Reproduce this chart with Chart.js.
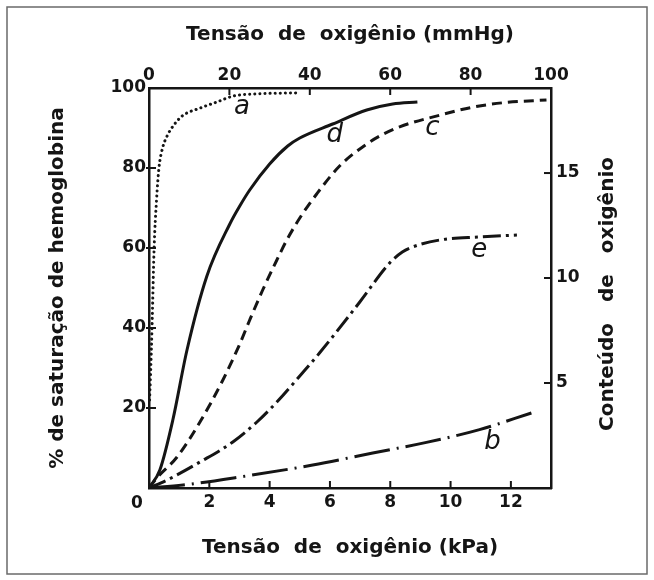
<!DOCTYPE html>
<html lang="pt">
<head>
<meta charset="utf-8">
<title>Curvas de dissociação</title>
<script src="https://cdn.jsdelivr.net/npm/chart.js@4.4.1/dist/chart.umd.min.js"></script>
<style>
  html, body { margin: 0; padding: 0; background: #fff; }
  #caixa { width: 654px; height: 580px; position: relative; }
</style>
</head>
<body>
<div id="caixa"><canvas id="grafico"></canvas></div>
<script>
// =========================
// DADOS (kPa x % saturação)
// =========================
const aKpa = [0.02, 0.05, 0.1, 0.17, 0.25, 0.33, 0.45, 0.6, 0.8, 1.1, 1.7, 2.25, 2.8, 3.5, 5.0];
const aSat = [22, 28, 40, 60, 72, 80, 85, 88, 90.5, 93, 95, 96.5, 98, 98.5, 98.8];

const dKpa = [0, 0.36, 0.79, 1.26, 1.92, 2.68, 3.01, 3.34, 4.0, 4.6, 5.0, 6.09, 7.22, 8.08, 8.9];
const dSat = [0, 4.5, 17, 34.5, 53, 66, 70.5, 74.5, 81, 85.5, 87.5, 91, 94.5, 96, 96.5];

const cKpa = [0, 0.26, 0.93, 1.69, 2.45, 3.01, 3.34, 3.77, 4.24, 4.57, 5.0, 5.56, 6.32, 7.22, 7.7, 8.31, 9.64, 10.73, 11.85, 13.18];
const cSat = [0, 2.5, 7.75, 16.5, 27, 36, 42, 49.5, 57, 62, 67.5, 73.5, 80.5, 86, 88.2, 90.3, 93.2, 95.2, 96.4, 97];

const eKpa = [0, 0.6, 1.69, 2.78, 3.58, 4.24, 5.0, 5.66, 6.99, 7.98, 8.4, 8.74, 9.64, 10.96, 12.2];
const eSat = [0, 2, 6.5, 11.5, 16.5, 21.5, 28, 33.8, 46.5, 56.25, 59, 60.25, 62, 62.75, 63.25];

const bKpa = [0, 1.13, 3.0, 5.43, 7.42, 9.2, 10.96, 12.68];
const bSat = [0, 0.75, 2.75, 5.75, 8.75, 11.4, 14.6, 18.75];

// rótulos das curvas (posição em kPa / %)
const rotulos    = ["a", "d", "c", "e", "b"];
const rotulosKpa = [3.08, 6.16, 9.4, 10.95, 11.39];
const rotulosSat = [95.25, 88.25, 90, 59.5, 11.5];

// eixos
const kpaMax      = 13.33;
const mmHgMax     = 100;
const satMax      = 100;
const conteudoMax = 19.05;

const tituloTopo     = "Tensão  de  oxigênio (mmHg)";
const tituloBase     = "Tensão  de  oxigênio (kPa)";
const tituloEsquerda = "% de saturação de hemoglobina";
const tituloDireita  = "Conteúdo   de   oxigênio";

const cor = "#151515";
const fonte = "'DejaVu Sans', sans-serif";

function pontos(xs, ys) {
  return xs.map((x, i) => ({ x, y: ys[i] }));
}

function serie(xs, ys, dash, cap) {
  return {
    data: pontos(xs, ys),
    borderColor: cor,
    borderWidth: 3,
    borderDash: dash,
    borderCapStyle: cap || "butt",
    pointRadius: 0,
    fill: false,
    cubicInterpolationMode: "monotone",
    xAxisID: "x",
    yAxisID: "y"
  };
}

// =========================
// PLUGIN: marcas internas, rótulos, moldura
// =========================
const extras = {
  id: "extras",
  afterDraw(chart) {
    const ctx = chart.ctx;
    const area = chart.chartArea;
    const s = chart.scales;
    const tam = 7;

    ctx.save();
    ctx.strokeStyle = cor;
    ctx.lineWidth = 2;

    // marcas para dentro
    s.x.ticks.forEach(t => {
      if (t.value <= 0) return;
      const px = s.x.getPixelForValue(t.value);
      ctx.beginPath(); ctx.moveTo(px, area.bottom); ctx.lineTo(px, area.bottom - tam); ctx.stroke();
    });
    s.x2.ticks.forEach(t => {
      if (t.value <= 0 || t.value >= mmHgMax) return;
      const px = s.x2.getPixelForValue(t.value);
      ctx.beginPath(); ctx.moveTo(px, area.top); ctx.lineTo(px, area.top + tam); ctx.stroke();
    });
    s.y.ticks.forEach(t => {
      if (t.value <= 0 || t.value >= satMax) return;
      const py = s.y.getPixelForValue(t.value);
      ctx.beginPath(); ctx.moveTo(area.left - 3, py); ctx.lineTo(area.left + tam, py); ctx.stroke();
    });
    s.y2.ticks.forEach(t => {
      if (t.value <= 0) return;
      const py = s.y2.getPixelForValue(t.value);
      ctx.beginPath(); ctx.moveTo(area.right, py); ctx.lineTo(area.right - tam, py); ctx.stroke();
    });

    ctx.fillStyle = cor;

    // zero do canto
    ctx.font = `bold 17px ${fonte}`;
    ctx.textAlign = "center";
    ctx.textBaseline = "middle";
    ctx.fillText("0", area.left - 12, area.bottom + 16);

    // rótulos das curvas
    ctx.font = `italic 26px ${fonte}`;
    rotulos.forEach((r, i) => {
      ctx.fillText(r, s.x.getPixelForValue(rotulosKpa[i]), s.y.getPixelForValue(rotulosSat[i]));
    });

    // título da direita (lido de baixo para cima)
    ctx.font = `bold 20px ${fonte}`;
    ctx.translate(area.right + 57, (area.top + area.bottom) / 2 + 6);
    ctx.rotate(-Math.PI / 2);
    ctx.fillText(tituloDireita, 0, 0);
    ctx.restore();

    // moldura
    ctx.save();
    ctx.strokeStyle = "#6a6a6a";
    ctx.lineWidth = 1.5;
    ctx.strokeRect(7, 7, chart.width - 14, chart.height - 13);
    ctx.restore();
  }
};

// =========================
// GRÁFICO
// =========================
const borda = { display: true, color: cor, width: 2.5 };
const semGrade = { display: false, drawTicks: false };
const fonteTick = { family: fonte, size: 17, weight: "bold" };
const fonteTitulo = { family: fonte, size: 20, weight: "bold" };

new Chart(document.getElementById("grafico"), {
  type: "line",
  data: {
    datasets: [
      serie(aKpa, aSat, [0.1, 5], "round"),
      serie(dKpa, dSat, []),
      serie(cKpa, cSat, [10, 6]),
      serie(eKpa, eSat, [18, 5, 3, 5]),
      serie(bKpa, bSat, [36, 7, 2, 7])
    ]
  },
  options: {
    responsive: true,
    maintainAspectRatio: false,
    animation: false,
    layout: { padding: 0 },
    plugins: {
      legend: { display: false },
      tooltip: { enabled: false }
    },
    scales: {
      x: {
        type: "linear", position: "bottom", min: 0, max: kpaMax,
        grid: semGrade, border: borda,
        ticks: {
          stepSize: 2, includeBounds: false, padding: 4, color: cor, font: fonteTick,
          callback: v => (v === 0 ? "" : v)
        },
        title: {
          display: true, text: tituloBase, color: cor,
          font: fonteTitulo, padding: { top: 0, bottom: 20 }
        },
        afterFit: sc => { sc.height = 92; }
      },
      x2: {
        type: "linear", position: "top", min: 0, max: mmHgMax,
        grid: semGrade, border: borda,
        ticks: { stepSize: 20, padding: 2, color: cor, font: fonteTick },
        title: {
          display: true, text: tituloTopo, color: cor,
          font: fonteTitulo, padding: { top: 23, bottom: 0 }
        },
        afterFit: sc => { sc.height = 88; }
      },
      y: {
        type: "linear", position: "left", min: 0, max: satMax,
        grid: semGrade, border: borda,
        ticks: {
          stepSize: 20, padding: 3, color: cor, font: fonteTick,
          callback: v => (v === 0 ? "" : v)
        },
        title: {
          display: true, text: tituloEsquerda, color: cor,
          font: fonteTitulo, padding: { top: 46, bottom: 0 }
        },
        afterFit: sc => { sc.width = 149; }
      },
      y2: {
        type: "linear", position: "right", min: 0, max: conteudoMax,
        grid: semGrade, border: borda,
        ticks: {
          stepSize: 5, includeBounds: false, padding: 5, color: cor, font: fonteTick,
          callback: v => (v === 0 ? "" : v)
        },
        afterFit: sc => { sc.width = 103; }
      }
    }
  },
  plugins: [extras]
});
</script>
</body>
</html>
